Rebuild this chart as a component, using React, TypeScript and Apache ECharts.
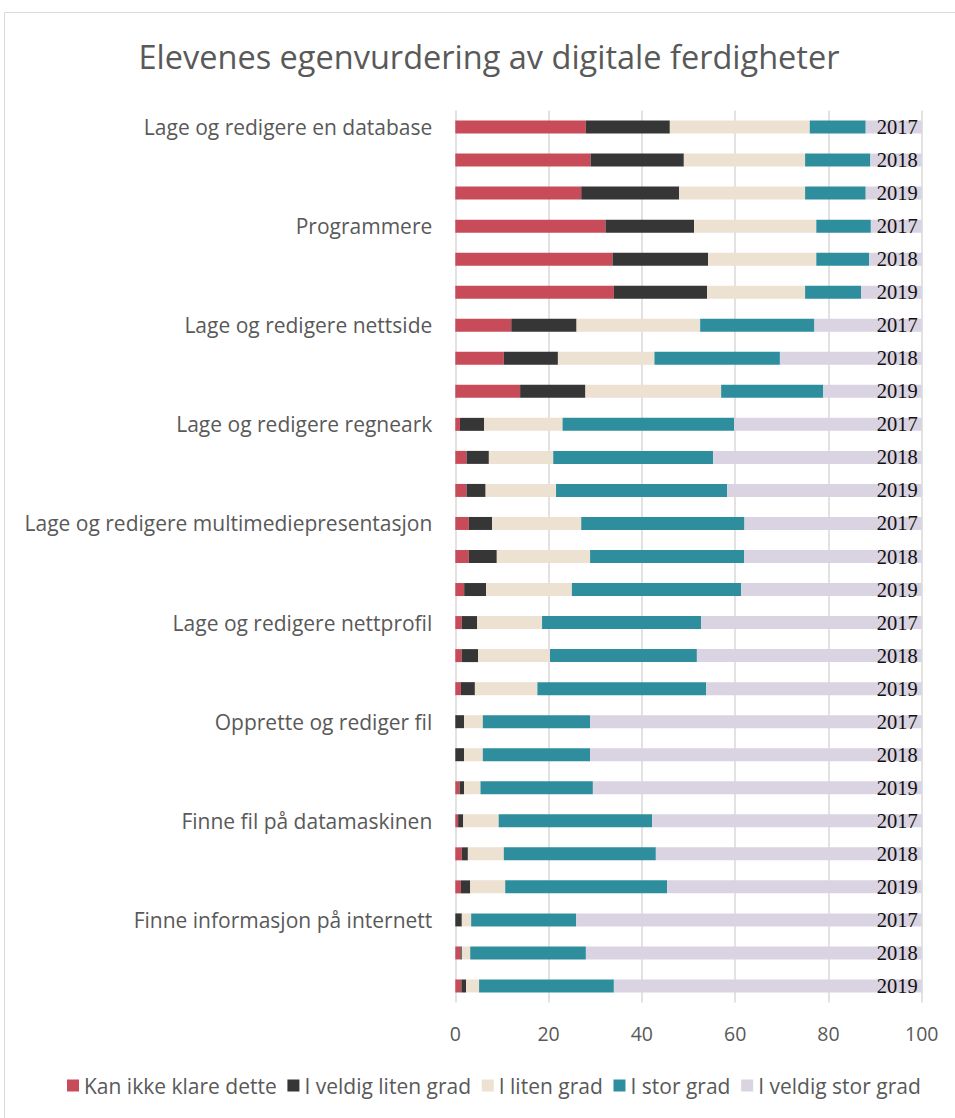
import React, { useEffect, useRef } from "react";
import * as echarts from "echarts";

const categories = [
  "Lage og redigere en database",
  "Programmere",
  "Lage og redigere nettside",
  "Lage og redigere regneark",
  "Lage og redigere multimediepresentasjon",
  "Lage og redigere nettprofil",
  "Opprette og rediger fil",
  "Finne fil på datamaskinen",
  "Finne informasjon på internett",
];
const years = ["2017", "2018", "2019"];

const seriesNames = [
  "Kan ikke klare dette",
  "I veldig liten grad",
  "I liten grad",
  "I stor grad",
  "I veldig stor grad",
];
const seriesColors = ["#C84B5A", "#363636", "#EDE1D2", "#2E8E9E", "#DAD3E1"];

// one value per row: category × year (2017, 2018, 2019)
const kanIkke = [
  28, 29, 27, 32.2, 33.7, 34, 12, 10.4, 13.9, 1, 2.4, 2.4, 2.9, 2.9, 1.9, 1.4, 1.4, 1.2, 0, 0, 0.9, 0.6, 1.4, 1.2, 0, 1.1, 1.3,
];
const veldigLiten = [
  18, 20, 21, 19, 20.5, 20, 14, 11.6, 14, 5.2, 4.8, 4.1, 5, 6, 4.7, 3.3, 3.5, 3.0, 1.9, 1.9, 1.0, 1.1, 1.3, 2.0, 1.4, 0.3, 1.0,
];
const liten = [
  30, 26, 27, 26.2, 23.2, 21, 26.5, 20.7, 29.1, 16.8, 13.8, 15.1, 19.1, 20, 18.4, 13.9, 15.4, 13.4, 4, 4, 3.5, 7.6, 7.7, 7.5, 2.0, 1.8, 2.8,
];
const stor = [
  12, 14, 13, 11.7, 11.3, 12, 24.5, 26.9, 21.9, 36.8, 34.3, 36.7, 35, 33, 36.3, 34.1, 31.5, 36.2, 23, 23, 24.1, 32.9, 32.6, 34.7, 22.5, 24.8, 28.9,
];
const veldigStor = [
  12, 11, 12, 10.9, 11.3, 13, 23, 30.4, 21.1, 40.2, 44.7, 41.7, 38, 38.1, 38.7, 47.3, 48.2, 46.2, 71.1, 71.1, 70.5, 57.8, 57, 54.6, 74.1, 72, 66,
];

const xTicks = { min: 0, max: 100, interval: 20 };

const FONT = "Open Sans";

export default function App() {
  const ref = useRef<HTMLDivElement>(null);

  useEffect(() => {
    if (!ref.current) return;
    const chart = echarts.init(ref.current, null, { renderer: "svg" });
    const rowKeys = categories.flatMap((c) => years.map((y) => `${c} ${y}`));
    const values = [kanIkke, veldigLiten, liten, stor, veldigStor];

    const series = seriesNames.map((name, i) => ({
      name,
      type: "bar",
      stack: "total",
      barWidth: 13,
      data: values[i],
      itemStyle: { color: seriesColors[i] },
      emphasis: { disabled: true },
      label:
        i === seriesNames.length - 1
          ? {
              show: true,
              position: "insideRight",
              distance: 4,
              formatter: (p: any) => years[p.dataIndex % 3],
              color: "#111111",
              fontFamily: "Liberation Serif",
              fontSize: 20.5,
            }
          : { show: false },
    }));

    chart.setOption({
      animation: false,
      backgroundColor: "#ffffff",
      title: {
        text: "Elevenes egenvurdering av digitale ferdigheter",
        left: 484,
        top: 35,
        textAlign: "center",
        textStyle: {
          fontFamily: FONT,
          fontSize: 32.5,
          fontWeight: "normal",
          color: "#595959",
        },
      },
      graphic: [
        {
          type: "rect",
          silent: true,
          z: -10,
          shape: { x: 4.5, y: 12.5, width: 1000, height: 1200 },
          style: { fill: "none", stroke: "#d9d9d9", lineWidth: 1 },
        },
      ],
      legend: {
        left: 67,
        top: 1075,
        padding: 0,
        icon: "rect",
        itemWidth: 12,
        itemHeight: 12,
        itemGap: 10.7,
        textStyle: { fontFamily: FONT, fontSize: 21, color: "#595959" },
        data: seriesNames,
      },
      grid: { left: 455.3, right: 33.3, top: 110.5, bottom: 115.5 },
      xAxis: {
        type: "value",
        min: xTicks.min,
        max: xTicks.max,
        interval: xTicks.interval,
        axisLine: { show: false },
        axisTick: { show: false },
        splitLine: { lineStyle: { color: "#d9d9d9", width: 1.5 } },
        axisLabel: { fontFamily: FONT, fontSize: 19.5, color: "#595959", margin: 21 },
      },
      yAxis: {
        type: "category",
        inverse: true,
        data: rowKeys,
        axisLine: { show: false },
        axisTick: { show: false },
        axisLabel: {
          interval: 0,
          margin: 23,
          fontFamily: FONT,
          fontSize: 21,
          color: "#595959",
          formatter: (_v: string, idx: number) => (idx % 3 === 0 ? categories[idx / 3] : ""),
        },
      },
      series,
    });
    return () => chart.dispose();
  }, []);

  return (
    <div
      ref={ref}
      style={{ position: "absolute", left: 0, top: 0, width: 955, height: 1118 }}
    />
  );
}
